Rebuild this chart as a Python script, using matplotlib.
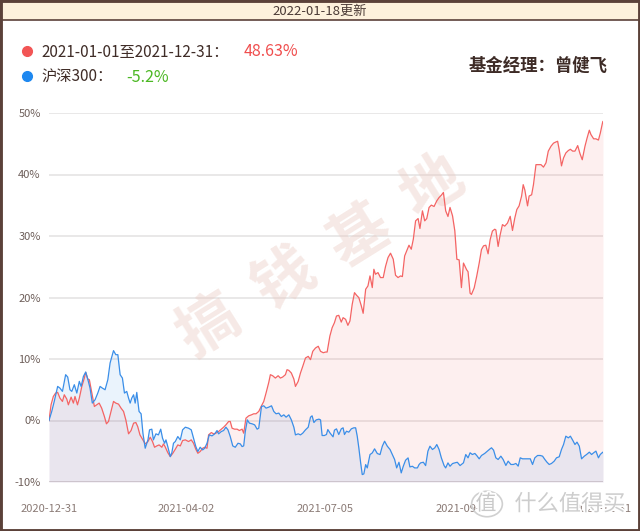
import matplotlib
matplotlib.use('Agg')
import matplotlib.pyplot as plt
from matplotlib.lines import Line2D
from matplotlib.patches import Rectangle, Circle
import matplotlib.patheffects as pe

plt.rcParams['font.family'] = ['Noto Sans CJK SC', 'DejaVu Sans']

# 交易日序号（0 = 2020-12-31, 243 = 2021-12-31）与累计收益率(%)
fund_day = [0, 0.9, 1.9, 2.9, 3.8, 4.8, 5.9, 6.7, 7.8, 8.5, 9.7, 10.7, 11.4, 12.5, 13.3, 14.4, 15.5, 16.1, 17.0, 17.7,
            18.8, 19.9, 20.9, 22.0, 23.1, 24.3, 25.2, 26.1, 27.2, 28.3, 29.3, 30.5, 31.6, 32.7, 33.7, 34.9, 36.0, 37.1,
            38.1, 38.9, 39.9, 41.0, 42.2, 43.4, 44.4, 45.4, 46.3, 47.3, 48.3, 49.5, 50.2, 50.9, 52.1, 53.2, 54.3, 55.4,
            56.5, 57.6, 58.6, 59.8, 61.2, 62.4, 63.4, 64.4, 65.3, 66.3, 67.4, 68.3, 69.3, 70.0, 71.2, 72.2, 73.2, 74.4,
            75.6, 76.6, 77.6, 78.8, 79.5, 80.3, 81.4, 82.5, 83.5, 84.7, 85.4, 86.4, 87.6, 88.8, 89.8, 90.8, 92.0, 93.2,
            94.2, 95.2, 96.4, 97.1, 98.1, 99.3, 100.5, 101.5, 102.5, 103.7, 104.4, 105.2, 106.3, 107.4, 108.1, 109.3,
            110.3, 111.3, 112.5, 113.7, 114.7, 115.7, 116.9, 118.1, 119.1, 120.3, 121.3, 122.0, 123.2, 124.2, 125.2,
            126.1, 127.1, 128.2, 129.0, 130.1, 131.1, 132.0, 133.0, 134.0, 134.9, 135.9, 137.0, 137.8, 138.9, 139.9,
            140.8, 141.8, 142.5, 143.2, 144.3, 145.4, 146.6, 147.6, 148.7, 149.8, 151.0, 152.0, 153.1, 154.2, 155.0,
            156.0, 156.9, 157.9, 158.9, 159.8, 160.8, 161.9, 162.7, 163.8, 164.8, 165.7, 166.7, 167.7, 168.9, 170.1,
            171.1, 172.1, 173.0, 174.0, 175.0, 175.9, 177.0, 178.0, 178.9, 179.9, 180.9, 181.8, 183.2, 183.8, 184.7,
            185.3, 186.5, 187.6, 188.7, 189.7, 190.6, 191.6, 192.6, 193.5, 194.5, 195.5, 196.0, 197.0, 197.9, 198.9,
            199.9, 201.1, 202.3, 203.3, 204.3, 205.2, 206.2, 207.3, 208.0, 208.7, 209.9, 210.6, 211.7, 212.5, 213.6,
            214.6, 215.8, 216.9, 218.0, 219.0, 220.2, 221.3, 222.4, 223.1, 223.8, 224.8, 225.7, 226.7, 227.8, 228.7,
            229.7, 230.7, 231.9, 232.9, 233.9, 235.1, 236.0, 237.0, 237.7, 238.9, 239.9, 241.0, 241.8, 242.9, 243]
fund_ret = [0, 2.55, 3.91, 4.46, 4.57, 3.64, 3.1, 4.18, 3.48, 2.55, 3.8, 2.83, 3.91, 2.55, 3.64, 5.54, 6.9, 7.83, 6.74,
            6.63, 4.46, 2.28, 2.55, 2.83, 2.01, 0.65, -0.54, -0.16, 1.47, 3.1, 2.83, 2.66, 2.01, 1.47, 0.1, -2.17,
            -1.63, -0.43, -0.33, -0.98, -2.34, -3.04, -3.8, -3.42, -2.72, -3.42, -4.35, -4.13, -3.97, -4.35, -3.8,
            -4.24, -5.22, -5.87, -5.33, -4.67, -3.97, -4.13, -3.26, -3.15, -3.42, -3.15, -3.7, -4.67, -5.33, -5.05,
            -4.51, -4.35, -4.51, -2.34, -1.96, -2.17, -2.06, -1.79, -1.41, -1.09, -0.71, -0.16, -0.16, -1.25, -1.41,
            -1.41, -1.63, -1.41, -2.06, 0.38, 0.76, 0.92, 1.09, 1.09, 1.47, 2.39, 3.1, 4.46, 6.2, 7.45, 7.28, 6.9,
            7.28, 6.9, 7.07, 7.45, 8.26, 8.15, 7.72, 6.74, 5.54, 6.36, 7.72, 8.8, 10.16, 10.43, 9.89, 11.25, 11.79,
            12.07, 11.25, 11.02, 11.13, 11.13, 13.73, 15.09, 15.9, 16.99, 17.1, 16.0, 16.72, 16.45, 15.47, 16.18,
            18.89, 20.79, 20.36, 19.98, 18.62, 17.43, 21.34, 21.88, 23.51, 21.61, 24.59, 23.78, 24.05, 23.24, 23.24,
            25.03, 26.49, 27.2, 26.22, 23.62, 23.24, 23.51, 23.4, 26.76, 27.58, 28.5, 27.85, 29.48, 32.46, 32.84,
            31.22, 34.09, 32.46, 32.84, 34.64, 35.02, 34.8, 35.72, 36.26, 36.64, 37.08, 34.09, 33.17, 34.64, 33.28,
            30.84, 26.22, 26.11, 21.61, 25.6, 24.5, 24.2, 20.7, 20.5, 21.56, 23.45, 25.6, 27.8, 28.4, 28.5, 27.1,
            29.4, 30.8, 31.1, 31.0, 28.3, 30.2, 31.85, 31.6, 32.1, 33.2, 30.9, 32.9, 34.3, 34.9, 36.5, 38.35, 37.5,
            34.9, 36.5, 36.7, 38.35, 41.6, 41.6, 41.6, 41.2, 41.9, 43.8, 44.6, 45.1, 45.3, 45.4, 44.0, 41.4, 42.7,
            43.5, 43.9, 44.1, 43.8, 43.8, 44.7, 43.4, 42.4, 44.6, 45.9, 47.2, 46.5, 45.8, 45.8, 45.6, 46.7, 48.6, 48.63]

hs300_day = [0, 1.2, 2.3, 3.8, 4.8, 5.9, 7.3, 8.2, 9.2, 10.0, 11.1, 12.2, 13.3, 14.1, 15.1, 16.1, 17.0, 18.0, 19.0,
             20.2, 21.4, 22.4, 23.4, 24.6, 25.8, 26.8, 28.3, 29.3, 30.2, 31.2, 32.2, 33.1, 34.1, 34.9, 35.6, 36.3,
             37.1, 37.8, 38.5, 39.5, 40.4, 41.2, 42.2, 43.4, 44.1, 45.1, 45.8, 46.9, 48.0, 49.0, 49.8, 50.7, 51.3,
             52.1, 53.2, 53.9, 54.6, 55.4, 56.5, 57.6, 58.6, 59.8, 61.2, 62.4, 63.4, 64.4, 65.3, 66.3, 67.4, 68.3,
             69.3, 70.3, 71.5, 72.7, 73.7, 74.4, 75.6, 76.6, 77.6, 78.5, 79.5, 80.6, 81.7, 82.9, 83.9, 84.7, 85.4,
             86.1, 87.0, 87.9, 89.1, 90.2, 91.3, 92.0, 93.2, 94.2, 95.2, 96.4, 97.6, 98.6, 99.6, 100.8, 101.9, 103.0,
             104.0, 105.2, 106.3, 107.4, 108.1, 109.3, 110.3, 111.3, 112.5, 113.7, 114.7, 115.4, 116.2, 117.2, 118.4,
             119.1, 119.8, 120.8, 121.7, 122.3, 123.2, 123.8, 124.6, 125.2, 126.1, 127.1, 128.2, 129.0, 129.6, 130.5,
             131.5, 132.6, 133.7, 134.5, 135.2, 135.9, 136.7, 137.4, 138.1, 138.9, 139.6, 140.8, 141.8, 142.8, 144.0,
             145.2, 146.2, 147.2, 148.4, 149.6, 150.6, 151.6, 152.5, 153.5, 154.5, 155.4, 156.4, 157.5, 158.3, 159.4,
             160.4, 161.6, 162.3, 163.0, 164.2, 165.2, 166.2, 167.1, 168.2, 169.2, 170.1, 171.1, 172.1, 173.3, 174.0,
             175.0, 175.9, 177.0, 178.0, 179.1, 180.3, 181.8, 182.8, 183.8, 184.7, 185.7, 186.8, 187.6, 188.7, 189.7,
             191.1, 192.3, 193.5, 194.1, 195.0, 196.0, 197.0, 198.2, 199.2, 200.4, 201.4, 202.6, 203.7, 204.8, 205.8,
             206.7, 207.7, 208.7, 209.9, 211.1, 212.1, 213.1, 214.3, 215.5, 216.5, 217.5, 218.4, 219.4, 220.4, 221.6,
             222.6, 223.8, 224.8, 225.7, 226.7, 227.8, 228.7, 229.7, 230.7, 231.6, 232.6, 233.6, 234.8, 235.8, 237.0,
             238.0, 238.9, 239.9, 241.0, 241.8, 242.9, 243]
hs300_ret = [0, 1.47, 3.1, 5.54, 5.27, 4.73, 7.45, 7.07, 5.0, 4.73, 5.82, 4.46, 6.36, 5.54, 7.17, 7.88, 6.74, 5.27,
             2.83, 3.37, 4.46, 5.54, 5.27, 5.0, 6.63, 9.35, 11.36, 10.7, 10.7, 7.45, 6.9, 4.46, 4.73, 3.64, 2.83, 3.64,
             4.18, 2.83, 4.57, 1.47, 1.09, -2.07, -4.51, -3.15, -1.52, -1.41, -3.15, -2.17, -2.34, -1.41, -2.88, -3.7,
             -3.15, -4.24, -5.87, -5.22, -3.7, -3.42, -2.61, -3.15, -1.52, -1.09, -1.25, -1.52, -2.88, -4.24, -5.05,
             -4.35, -4.78, -4.51, -3.7, -2.34, -2.5, -2.17, -1.63, -2.17, -1.79, -1.63, -1.09, -1.52, -2.61, -4.13,
             -4.35, -3.7, -3.8, -4.24, -4.13, -1.79, 0.1, -0.43, -0.54, -0.71, -1.41, -1.25, 2.28, 2.39, 2.01, 2.17,
             2.39, 1.47, 1.09, 1.2, 0.65, 0.92, 0.54, 0.92, 0.1, -1.09, -2.34, -2.17, -2.34, -2.06, -1.52, -1.09, 0.54,
             0.76, -0.33, 0.1, 0.22, 0.1, -2.44, -2.44, -2.28, -1.47, -2.0, -2.28, -2.66, -1.57, -1.36, -2.28, -1.36,
             -1.19, -2.28, -1.74, -1.9, -1.36, -1.19, -1.19, -2.55, -4.45, -6.89, -8.79, -8.69, -7.17, -7.71, -5.54,
             -5.27, -4.61, -5.37, -5.54, -4.18, -3.37, -4.18, -4.72, -5.54, -6.35, -7.71, -6.79, -8.52, -7.44, -6.46,
             -6.08, -7.55, -7.44, -7.71, -7.71, -7.17, -6.89, -6.79, -7.33, -4.99, -4.18, -4.72, -4.45, -3.91, -4.72,
             -6.08, -7.33, -7.71, -6.89, -7.44, -7.0, -6.89, -6.79, -7.33, -6.88, -5.53, -6.07, -5.25, -5.53, -5.36,
             -5.69, -6.23, -5.69, -5.36, -4.98, -4.6, -4.44, -4.82, -6.07, -6.34, -5.8, -6.34, -7.31, -6.61, -7.15,
             -7.15, -6.99, -7.42, -6.07, -6.23, -6.23, -6.23, -6.23, -7.15, -6.07, -5.69, -5.69, -5.8, -6.34, -6.77,
             -7.15, -6.99, -6.61, -6.07, -5.9, -4.71, -3.9, -2.55, -2.82, -2.55, -3.2, -3.9, -3.52, -4.17, -6.23,
             -5.8, -5.53, -5.15, -5.53, -5.25, -4.98, -6.07, -5.53, -5.15, -5.2]

tick_days = [0, 60, 121, 182, 243]
tick_labels = ['2020-12-31', '2021-04-02', '2021-07-05', '2021-09-30', '2021-12-31']
y_ticks = [-10, 0, 10, 20, 30, 40, 50]

RED = '#f46464'
BLUE = '#3a8ee8'
BROWN = '#5b4139'

W, H = 640, 531
fig = plt.figure(figsize=(6.4, 5.31), dpi=100)
fig.patch.set_facecolor('white')

def fx(x):
    return x / W

def fy(y):
    return 1 - y / H

ax = fig.add_axes([fx(49), fy(482), fx(603) - fx(49), fy(113) - fy(482)])
ax.set_xlim(0, 243)
ax.set_ylim(-10, 50)
for s in ax.spines.values():
    s.set_visible(False)
for v in y_ticks:
    ax.axhline(v, color='#d2cccc' if v == -10 else '#e3e1e1', lw=1.1, zorder=0.5)

ax.fill_between(fund_day, fund_ret, -10, color=RED, alpha=0.1, lw=0, zorder=1)
ax.fill_between(hs300_day, hs300_ret, -10, color=BLUE, alpha=0.1, lw=0, zorder=1)
ax.plot(fund_day, fund_ret, color=RED, lw=0.9, zorder=3)
ax.plot(hs300_day, hs300_ret, color=BLUE, lw=0.9, zorder=3)

ax.set_yticks(y_ticks)
ax.set_yticklabels([f'{v}%' for v in y_ticks], fontsize=8, color='#6e5f5a')
ax.set_xticks(tick_days)
ax.set_xticklabels(tick_labels, fontsize=8, color='#8a7a75')
ax.tick_params(axis='y', length=0, pad=6)
ax.tick_params(axis='x', length=0, pad=16)

# 水印 搞钱基地
for ch, (cx, cy) in zip('搞钱基地', [(210, 327), (284, 280), (360, 236), (433, 187)]):
    ax.text(fx(cx), fy(cy), ch, transform=fig.transFigure, fontsize=44, rotation=32, fontweight='bold',
            color='#e9c9c0', alpha=0.4, ha='center', va='center', zorder=2, clip_on=False)

# 顶部标题栏
fig.add_artist(Rectangle((0, fy(20)), 1, 1 - fy(20), transform=fig.transFigure,
                         facecolor='#fdf1dc', edgecolor=BROWN, lw=1.2))
fig.text(0.5, fy(11), '2022-01-18更新', ha='center', va='center', fontsize=9.5, color='#4a3a35')

# 图例
fig.add_artist(Line2D([fx(26.5)], [fy(51)], marker='o', ms=7, color='#f25555', transform=fig.transFigure))
fig.add_artist(Line2D([fx(26.5)], [fy(76)], marker='o', ms=7, color='#1e88f0', transform=fig.transFigure))
fig.text(fx(41), fy(52), '2021-01-01至2021-12-31：', fontsize=11, color='#3f2c27', va='center')
fig.text(fx(244), fy(52), '48.63%', fontsize=11.5, color='#f04e4e', va='center')
fig.text(fx(41), fy(77), '沪深300：', fontsize=11, color='#3f2c27', va='center')
fig.text(fx(126), fy(77), '-5.2%', fontsize=11.5, color='#4cb824', va='center')
fig.text(fx(608), fy(66), '基金经理：曾健飞', fontsize=12.5, fontweight='bold', color='#3d2b26',
         ha='right', va='center')

# 右下角水印
halo = [pe.withStroke(linewidth=2.5, foreground='white')]
fig.text(fx(486), fy(504), '值', fontsize=15, color='#c9c9c9', ha='center', va='center', path_effects=halo)
fig.add_artist(Circle((fx(487), fy(504)), 0.024, transform=fig.transFigure, fill=False,
                      edgecolor='#d0d0d0', lw=1.2))
fig.text(fx(570), fy(504), '什么值得买', fontsize=16, color='#cdcdcd', ha='center', va='center',
         path_effects=halo)

# 外框
fig.add_artist(Rectangle((0, 0), 1, 1, transform=fig.transFigure, fill=False, edgecolor=BROWN, lw=3.5))

plt.savefig('out.png', dpi=100)
plt.close()
